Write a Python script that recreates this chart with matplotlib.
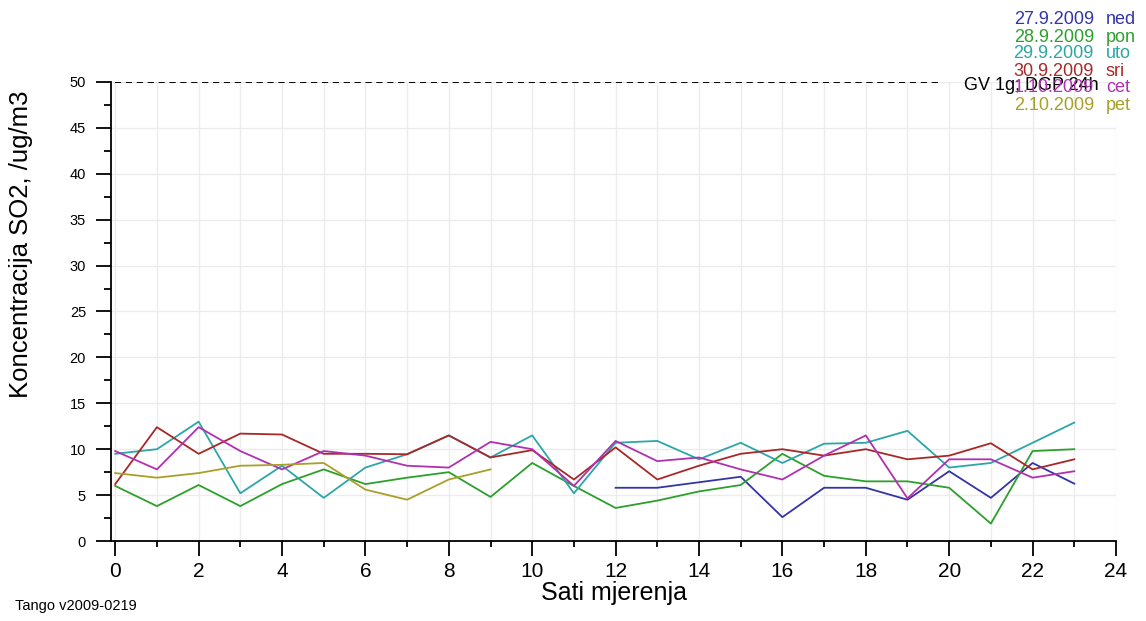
import numpy as np
import matplotlib.pyplot as plt
from matplotlib.ticker import MultipleLocator

plt.rcParams['font.family'] = ['Liberation Sans', 'DejaVu Sans']

hours = np.arange(24)
nan = np.nan

# SO2 concentration per hour, one list per day
ned = [nan] * 12 + [5.8, 5.8, 6.4, 7.0, 2.6, 5.8, 5.8, 4.5, 7.6, 4.7, 8.5, 6.25]
pon = [6.0, 3.8, 6.1, 3.8, 6.2, 7.8, 6.2, 6.9, 7.5, 4.8, 8.5, 6.0,
       3.6, 4.4, 5.4, 6.1, 9.5, 7.1, 6.5, 6.5, 5.8, 1.9, 9.8, 10.0]
uto = [9.5, 10.0, 13.0, 5.2, 8.2, 4.7, 8.0, 9.45, 11.5, 9.1, 11.5, 5.2,
       10.7, 10.9, 8.9, 10.7, 8.5, 10.6, 10.7, 12.0, 8.0, 8.5, 10.7, 12.9]
sri = [6.2, 12.4, 9.5, 11.7, 11.6, 9.5, 9.5, 9.45, 11.5, 9.1, 9.9, 6.7,
       10.2, 6.7, 8.2, 9.5, 10.0, 9.3, 10.0, 8.9, 9.3, 10.65, 7.8, 8.9]
cet = [9.8, 7.8, 12.4, 9.8, 7.8, 9.8, 9.3, 8.2, 8.0, 10.8, 10.0, 6.0,
       10.9, 8.7, 9.1, 7.8, 6.7, 9.3, 11.5, 4.65, 8.9, 8.9, 6.9, 7.6]
pet = [7.4, 6.9, 7.4, 8.2, 8.3, 8.5, 5.6, 4.5, 6.7, 7.8] + [nan] * 14

dates = ['27.9.2009', '28.9.2009', '29.9.2009', '30.9.2009', '1.10.2009', '2.10.2009']
days = ['ned', 'pon', 'uto', 'sri', 'cet', 'pet']
series = [ned, pon, uto, sri, cet, pet]
colors = ['#3434a8', '#2ca02c', '#2ca6a6', '#a82828', '#b030b0', '#a8a028']

gv_limit = 50
gv_end = 19.8

fig = plt.figure(figsize=(11.46, 6.21), dpi=100)
ax = fig.add_axes([0.0969, 0.1288, 0.8769, 0.7392])

ax.grid(True, which='both', color='#ececec', linewidth=1.0)
ax.set_axisbelow(True)

for vals, c in zip(series, colors):
    ax.plot(hours, vals, color=c, linewidth=1.3)

ax.plot([0, gv_end], [gv_limit, gv_limit], color='black', linewidth=1.4,
        dashes=(3.2, 2.4))

ax.set_xlim(-0.1, 24)
ax.set_ylim(0, 50)
ax.xaxis.set_major_locator(MultipleLocator(2))
ax.xaxis.set_minor_locator(MultipleLocator(1))
ax.yaxis.set_major_locator(MultipleLocator(5))
ax.yaxis.set_minor_locator(MultipleLocator(2.5))
ax.grid(False, axis='y', which='minor')

for s in ['top', 'right']:
    ax.spines[s].set_visible(False)
for s in ['left', 'bottom']:
    ax.spines[s].set_linewidth(1.3)

ax.tick_params(axis='x', which='major', length=11, width=1.3, labelsize=15, pad=4)
ax.tick_params(axis='x', which='minor', length=4, width=1.3)
ax.tick_params(axis='y', which='major', length=11, width=1.3, labelsize=10.5, pad=7)
ax.tick_params(axis='y', which='minor', length=5, width=1.3)

ax.set_xlabel('Sati mjerenja', fontsize=18, labelpad=0)
ax.set_ylabel('Koncentracija SO2, /ug/m3', fontsize=18.5)
ax.yaxis.set_label_coords(-0.0776, 0.647)

ax.text(gv_end + 0.55, gv_limit - 0.4, 'GV 1g; DGP 24h', fontsize=13,
        va='center', ha='left')

for i, (d, n, c) in enumerate(zip(dates, days, colors)):
    y = 1 - (20 + i * 17) / 621
    fig.text(1094 / 1146, y, d, color=c, fontsize=13, ha='right', va='center')
    fig.text(1106 / 1146, y, n, color=c, fontsize=13, ha='left', va='center')

fig.text(15 / 1146, 1 - 606 / 621, 'Tango v2009-0219', fontsize=10.5, va='center')

plt.savefig('out.png', dpi=100)
